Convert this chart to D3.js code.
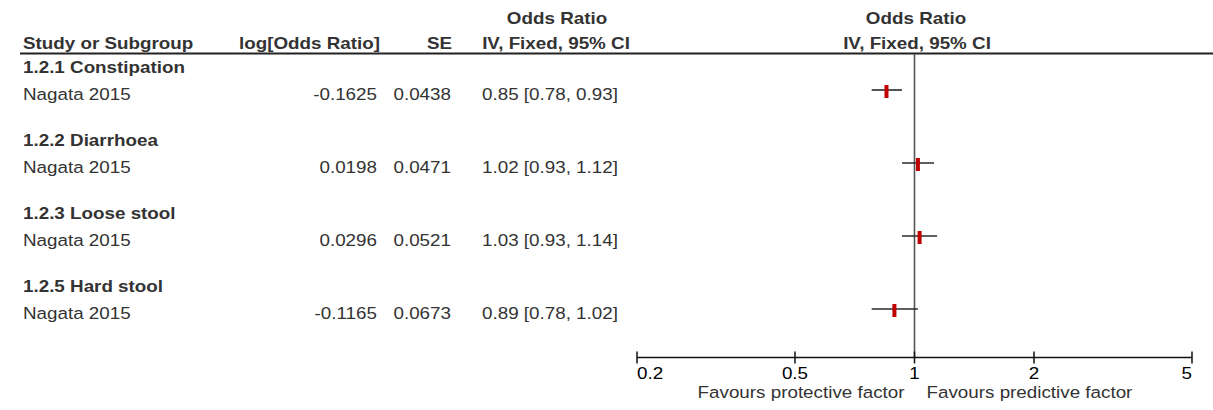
<!DOCTYPE html>
<html>
<head>
<meta charset="utf-8">
<script src="https://cdn.jsdelivr.net/npm/d3@7.9.0/dist/d3.min.js"></script>
<style>
  html, body { margin: 0; padding: 0; background: #fff; }
  svg { display: block; font-family: "Liberation Sans", Arial, sans-serif; }
</style>
</head>
<body>
<svg id="chart" width="1213" height="410"></svg>
<script>
// Data
const subgroups = ['1.2.1 Constipation', '1.2.2 Diarrhoea', '1.2.3 Loose stool', '1.2.5 Hard stool'];
const studies = ['Nagata 2015', 'Nagata 2015', 'Nagata 2015', 'Nagata 2015'];
const logOR = ['-0.1625', '0.0198', '0.0296', '-0.1165'];
const se = ['0.0438', '0.0471', '0.0521', '0.0673'];
const orVal = [0.85, 1.02, 1.03, 0.89];
const ciLow = [0.78, 0.93, 0.93, 0.78];
const ciHigh = [0.93, 1.12, 1.14, 1.02];
const ticks = [0.2, 0.5, 1, 2, 5];

const width = 1213, height = 410;
const fontSize = 16.5, stretch = 1.14; // text in the picture is a bit wide
const textColor = '#333';

const svg = d3.select('#chart');

const x = d3.scaleLog().domain([0.2, 5]).range([637, 1192]);
const y = d3.scaleLinear().domain([0, 3]).range([90, 309]); // CI line of each study row

function txt(str, px, py, opts = {}) {
  return svg.append('text')
    .attr('transform', `translate(${px},${py}) scale(${stretch},1)`)
    .attr('text-anchor', opts.anchor || 'start')
    .attr('font-size', fontSize)
    .attr('font-weight', opts.bold ? 'bold' : 'normal')
    .attr('fill', textColor)
    .text(str);
}

// Header
txt('Odds Ratio', 557, 24, { anchor: 'middle', bold: true });
txt('Odds Ratio', 916, 24, { anchor: 'middle', bold: true });
txt('Study or Subgroup', 23, 49, { bold: true });
txt('log[Odds Ratio]', 380, 49, { anchor: 'end', bold: true });
txt('SE', 452, 49, { anchor: 'end', bold: true });
txt('IV, Fixed, 95% CI', 556, 49, { anchor: 'middle', bold: true });
txt('IV, Fixed, 95% CI', 917, 49, { anchor: 'middle', bold: true });

svg.append('line')
  .attr('x1', 20).attr('x2', width)
  .attr('y1', 53.5).attr('y2', 53.5)
  .attr('stroke', '#222').attr('stroke-width', 2);

// Line of no effect
svg.append('line')
  .attr('x1', x(1)).attr('x2', x(1))
  .attr('y1', 54).attr('y2', 357.5)
  .attr('stroke', '#555').attr('stroke-width', 1.6);

// Rows
subgroups.forEach((name, i) => {
  const ry = y(i);
  txt(name, 23, ry - 17, { bold: true });
  txt(studies[i], 23, ry + 10);
  txt(logOR[i], 377, ry + 10, { anchor: 'end' });
  txt(se[i], 451, ry + 10, { anchor: 'end' });
  txt(`${orVal[i].toFixed(2)} [${ciLow[i].toFixed(2)}, ${ciHigh[i].toFixed(2)}]`, 482, ry + 10);
});

const marks = svg.append('g');
marks.selectAll('line.ci')
  .data(orVal)
  .join('line')
  .attr('class', 'ci')
  .attr('x1', (d, i) => x(ciLow[i]))
  .attr('x2', (d, i) => x(ciHigh[i]))
  .attr('y1', (d, i) => y(i))
  .attr('y2', (d, i) => y(i))
  .attr('stroke', '#2a2a2a')
  .attr('stroke-width', 1.6);

marks.selectAll('rect')
  .data(orVal)
  .join('rect')
  .attr('x', d => x(d) - 2)
  .attr('y', (d, i) => y(i) - 5)
  .attr('width', 4)
  .attr('height', 13)
  .attr('fill', '#c00000');

// Axis
const axisY = 357.5;
svg.append('line')
  .attr('x1', x(0.2)).attr('x2', x(5))
  .attr('y1', axisY).attr('y2', axisY)
  .attr('stroke', '#111').attr('stroke-width', 1.5);

svg.selectAll('line.tick')
  .data(ticks)
  .join('line')
  .attr('class', 'tick')
  .attr('x1', d => x(d)).attr('x2', d => x(d))
  .attr('y1', axisY - 6).attr('y2', axisY + 6)
  .attr('stroke', '#111').attr('stroke-width', 1.5);

ticks.forEach((t, i) => {
  const anchor = i === 0 ? 'start' : (i === ticks.length - 1 ? 'end' : 'middle');
  txt(String(t), x(t), 379, { anchor }).attr('fill', '#000');
});

txt('Favours protective factor', x(1) - 10, 398, { anchor: 'end' });
txt('Favours predictive factor', x(1) + 12, 398);
</script>
</body>
</html>
